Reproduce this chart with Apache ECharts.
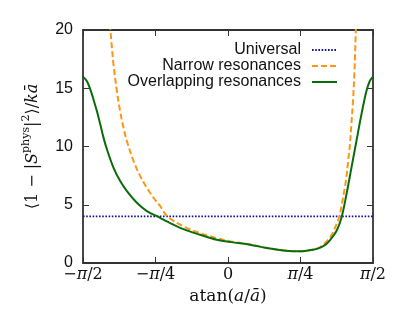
<!DOCTYPE html>
<html>
<head>
<meta charset="utf-8">
<script src="https://cdn.jsdelivr.net/npm/echarts@6/dist/echarts.min.js"></script>
<style>html,body{margin:0;padding:0;background:#fff;}#c{width:415px;height:310px;}</style>
</head>
<body>
<div id="c"></div>
<script>
// x values in radians: atan(a / a-bar)
var seriesNames = ['Universal', 'Narrow resonances', 'Overlapping resonances'];
var universalValue = 4;
var universalX = [-Math.PI / 2, Math.PI / 2];

var narrowX = [-1.279, -1.257, -1.240, -1.203, -1.168, -1.132, -1.095, -1.023, -0.951, -0.879, -0.807, -0.735, -0.663, -0.483, -0.303, -0.122, 0.057, 0.238, 0.418, 0.598, 0.778, 0.922, 0.995, 1.103, 1.175, 1.211, 1.265, 1.283, 1.301, 1.319, 1.337, 1.355, 1.370, 1.387];
var narrowY = [20.5, 18.45, 17.0, 14.74, 13.0, 11.6, 10.46, 8.74, 7.46, 6.45, 5.6, 4.89, 4.05, 3.14, 2.57, 2.14, 1.8, 1.6, 1.3, 1.09, 1.01, 1.15, 1.35, 2.17, 3.31, 4.17, 6.45, 7.4, 8.74, 10.0, 12.0, 14.0, 16.5, 20.5];

var overlapX = [-1.571, -1.528, -1.492, -1.456, -1.419, -1.384, -1.348, -1.311, -1.240, -1.168, -1.095, -0.987, -0.879, -0.735, -0.663, -0.483, -0.303, -0.122, 0.057, 0.238, 0.418, 0.598, 0.778, 0.922, 0.995, 1.060, 1.103, 1.175, 1.229, 1.283, 1.337, 1.391, 1.445, 1.499, 1.535, 1.571];
var overlapY = [16.0, 15.6, 14.9, 14.0, 13.0, 11.9, 10.74, 9.74, 8.17, 7.03, 6.17, 5.17, 4.46, 3.88, 3.57, 2.91, 2.43, 2.0, 1.77, 1.57, 1.29, 1.08, 1.0, 1.14, 1.3, 1.6, 1.95, 2.74, 3.88, 5.88, 8.17, 10.46, 12.74, 14.74, 15.6, 16.0];

var xTickLabels = {'-2': '{n|−}{it|π}{n|/2}', '-1': '{n|−}{it|π}{n|/4}', '0': '{n|0}', '1': '{it|π}{n|/4}', '2': '{it|π}{n|/2}'};
var yTicks = {min: 0, max: 20, interval: 5};

function zip(xs, ys) { return xs.map(function (x, i) { return [x, ys[i]]; }); }

var frameColor = '#333333';
var serif = 'DejaVu Serif';
var sans = 'Liberation Sans';

var chart = echarts.init(document.getElementById('c'), null, {renderer: 'canvas'});
var baseX = {
  type: 'value', min: -Math.PI / 2, max: Math.PI / 2, interval: Math.PI / 4,
  splitLine: {show: false},
  axisLine: {show: true, onZero: false, lineStyle: {color: frameColor, width: 1.8}},
  axisTick: {show: true, inside: true, length: 6, lineStyle: {color: frameColor, width: 1}}
};
var baseY = {
  type: 'value', min: yTicks.min, max: yTicks.max, interval: yTicks.interval,
  splitLine: {show: false},
  axisLine: {show: true, onZero: false, lineStyle: {color: frameColor, width: 1.8}},
  axisTick: {show: true, inside: true, length: 6, lineStyle: {color: frameColor, width: 1}}
};
var option = {
  animation: false,
  backgroundColor: '#ffffff',
  grid: {left: 83, right: 42, top: 30, bottom: 47, containLabel: false},
  legend: {
    data: seriesNames,
    orient: 'vertical', align: 'right',
    right: 77, top: 42, padding: 0,
    itemWidth: 25, itemHeight: 12, itemGap: 0,
    itemStyle: {opacity: 0},
    textStyle: {fontFamily: sans, fontSize: 16, color: '#111', lineHeight: 16, padding: [0, 6, 0, 0]}
  },
  xAxis: [
    Object.assign({}, baseX, {
      position: 'bottom',
      name: '{n|atan(}{it|a}{n|/}{it|ā}{n|)}',
      nameLocation: 'middle', nameGap: 22,
      nameTextStyle: {rich: {n: {fontFamily: serif, fontSize: 17, color: '#111'}, it: {fontFamily: serif, fontStyle: 'italic', fontSize: 17, color: '#111'}}},
      axisLabel: {
        margin: 4,
        formatter: function (v) { var k = Math.round(v / (Math.PI / 4)); return xTickLabels[String(k)] || ''; },
        rich: {n: {fontFamily: serif, fontSize: 16, color: '#111'}, it: {fontFamily: serif, fontStyle: 'italic', fontSize: 16, color: '#111'}}
      }
    }),
    Object.assign({}, baseX, {position: 'top', axisLabel: {show: false}})
  ],
  yAxis: [
    Object.assign({}, baseY, {
      position: 'left',
      name: '{n|⟨1 − |}{it|S}{sup|phys}{n||}{sup|2}{n|⟩/}{it|kā}',
      nameLocation: 'middle', nameRotate: 90, nameGap: 38,
      nameTextStyle: {rich: {
        n: {fontFamily: serif, fontSize: 16, color: '#111', lineHeight: 24},
        it: {fontFamily: serif, fontStyle: 'italic', fontSize: 16, color: '#111', lineHeight: 24},
        sup: {fontFamily: serif, fontSize: 11, color: '#111', verticalAlign: 'top', lineHeight: 24}
      }},
      axisLabel: {margin: 10, fontFamily: sans, fontSize: 16, color: '#111'}
    }),
    Object.assign({}, baseY, {position: 'right', axisLabel: {show: false}})
  ],
  series: [
    {
      name: seriesNames[0], type: 'line', xAxisIndex: 0, yAxisIndex: 0,
      data: universalX.map(function (x) { return [x, universalValue]; }),
      showSymbol: false, symbol: 'none',
      lineStyle: {color: '#1010a0', width: 1.8, type: [1.6, 1.6]},
      itemStyle: {color: '#1010a0'}
    },
    {
      name: seriesNames[1], type: 'line', xAxisIndex: 0, yAxisIndex: 0,
      data: zip(narrowX, narrowY), smooth: 0.35, clip: true,
      showSymbol: false, symbol: 'none',
      lineStyle: {color: '#ff9514', width: 2, type: [6, 3]},
      itemStyle: {color: '#ff9514'}
    },
    {
      name: seriesNames[2], type: 'line', xAxisIndex: 0, yAxisIndex: 0,
      data: zip(overlapX, overlapY), smooth: 0.35, clip: true,
      showSymbol: false, symbol: 'none',
      lineStyle: {color: '#0b6b0b', width: 2},
      itemStyle: {color: '#0b6b0b'}
    }
  ]
};
chart.setOption(option);
</script>
</body>
</html>
